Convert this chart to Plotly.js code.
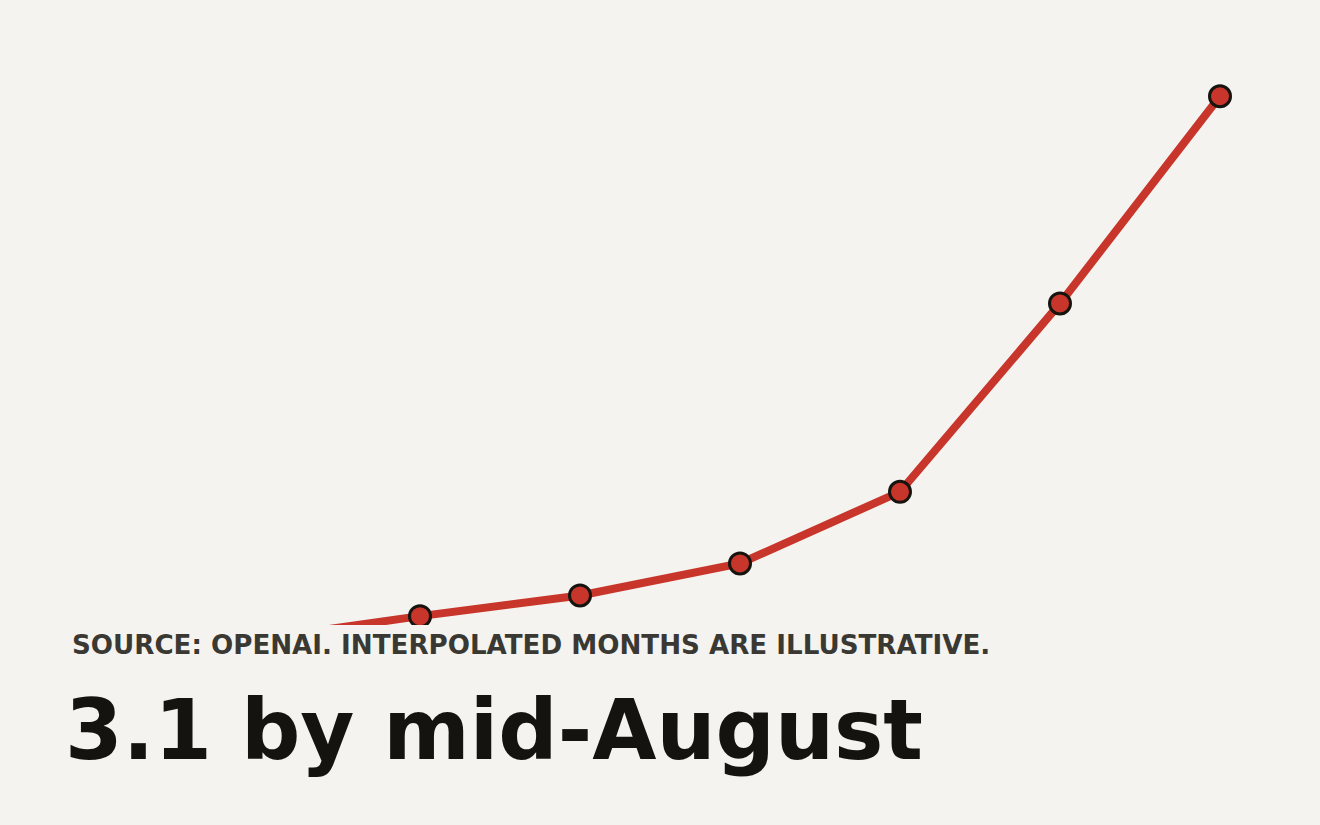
<!DOCTYPE html>
<html>
<head>
<meta charset="utf-8">
<script src="https://cdn.plot.ly/plotly-3.0.1.min.js"></script>
<style>
html, body {margin:0; padding:0; background:#f4f3ef;}
#chart {width:1320px; height:825px;}
</style>
</head>
<body>
<div id="chart"></div>
<script>
// Monthly values (the early months are cut off by the bottom of the plot area).
var months = [0, 1, 2, 3, 4, 5, 6, 7];
var values = [0.12, 0.22, 0.34, 0.45, 0.62, 1.0, 2.0, 3.1];
var source_text = 'SOURCE: OPENAI. INTERPOLATED MONTHS ARE ILLUSTRATIVE.';
var title_text = '3.1 by mid-August';

var bg = '#f4f3ef';

var graph_data = [{
x: months,
y: values,
type: 'scatter',
mode: 'lines+markers',
line: {color: '#c8352a', width: 8},
marker: {size: 21, color: '#c8352a', line: {color: '#16140f', width: 3}},
cliponaxis: true,
hoverinfo: 'skip',
showlegend: false
}];

var layout = {
width: 1320,
height: 825,
paper_bgcolor: bg,
plot_bgcolor: bg,
margin: {l: 0, r: 0, t: 0, b: 200, pad: 0},
xaxis: {
range: [-0.625, 7.625],
showgrid: false, zeroline: false, showticklabels: false, showline: false, ticks: ''
},
yaxis: {
range: [0.293, 3.611],
showgrid: false, zeroline: false, showticklabels: false, showline: false, ticks: ''
},
annotations: [{
text: '<b>' + source_text + '</b>',
xref: 'paper', yref: 'paper',
x: 0.053, y: -0.032,
xanchor: 'left', yanchor: 'middle',
showarrow: false,
font: {family: 'DejaVu Sans', size: 26.15, color: '#3a3833'}
}, {
text: '<b>' + title_text + '</b>',
xref: 'paper', yref: 'paper',
x: 0.0475, y: -0.168,
xanchor: 'left', yanchor: 'middle',
showarrow: false,
font: {family: 'DejaVu Sans', size: 83, color: '#14130f'}
}]
};

var config = {displayModeBar: false, staticPlot: true};
Plotly.newPlot('chart', graph_data, layout, config);
</script>
</body>
</html>
